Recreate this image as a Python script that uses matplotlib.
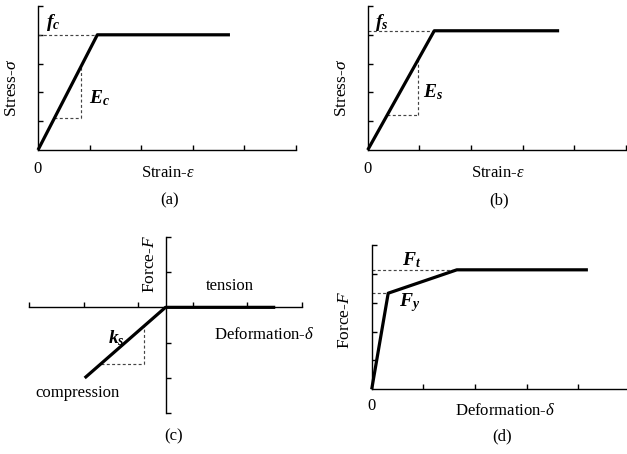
import numpy as np
import matplotlib
matplotlib.use("Agg")
from matplotlib import pyplot as plt

plt.rcParams['font.family'] = ['Liberation Serif', 'DejaVu Serif']
plt.rcParams['mathtext.fontset'] = 'custom'
plt.rcParams['mathtext.rm'] = 'Liberation Serif'
plt.rcParams['mathtext.it'] = 'Liberation Serif:italic'
plt.rcParams['mathtext.bf'] = 'Liberation Serif:italic:bold'

# constitutive curves (arbitrary units)
conc_strain = [0, 1.15, 3.72]
conc_stress = [0, 4.0, 4.0]
conc_corner = (0.84, 1.11)      # corner of the slope triangle

steel_strain = [0, 1.29, 3.71]
steel_stress = [0, 4.14, 4.14]
steel_corner = (0.97, 1.23)

spring_def = [-1.48, 0, 2.01]
spring_force = [-2.0, 0, 0]
spring_corner = (-0.40, -1.60)

link_def = [0, 0.32, 1.65, 4.19]
link_force = [0, 3.33, 4.14, 4.14]

LW = 2.3
DASH = dict(color='#444444', lw=0.85, ls=(0, (2.5, 2)))
FS = 12
FS_Y = 12.5
FS_SYM = 14

fig = plt.figure(figsize=(6.27, 4.54), dpi=100)


def px(v):
    return v * 0.72   # pixels -> points


def base_axes(rect, xlim, ylim):
    ax = fig.add_axes(rect)
    ax.patch.set_alpha(0)
    ax.set_xlim(*xlim)
    ax.set_ylim(*ylim)
    for s in ['top', 'right']:
        ax.spines[s].set_visible(False)
    for s in ['left', 'bottom']:
        ax.spines[s].set_linewidth(1.0)
    ax.tick_params(direction='in', length=3.8, width=1.0,
                   labelbottom=False, labelleft=False)
    return ax


def slope_triangle(ax, xs, ys, corner):
    cx, cy = corner
    x_low = np.interp(cy, ys[:2] if ys[0] < ys[1] else ys[1::-1],
                      xs[:2] if ys[0] < ys[1] else xs[1::-1])
    y_high = np.interp(cx, xs[:2] if xs[0] < xs[1] else xs[1::-1],
                       ys[:2] if xs[0] < xs[1] else ys[1::-1])
    ax.plot([x_low, cx], [cy, cy], **DASH)
    ax.plot([cx, cx], [cy, y_high], **DASH)


def stress_panel(rect, xs, ys, corner, top_lbl, slope_lbl, top_xy, slope_xy, tag):
    ax = base_axes(rect, (0, 5), (0, 5))
    ax.set_xticks([1, 2, 3, 4, 5])
    ax.set_yticks([1, 2, 3, 4, 5])
    ax.plot([0, xs[1]], [ys[1], ys[1]], **DASH)
    slope_triangle(ax, xs, ys, corner)
    ax.plot(xs, ys, color='black', lw=LW, solid_capstyle='butt', clip_on=False)
    ax.text(*top_xy, top_lbl, fontsize=FS_SYM, ha='center', va='center')
    ax.text(*slope_xy, slope_lbl, fontsize=FS_SYM, ha='center', va='center')
    ax.annotate('0', xy=(0, 0), xycoords='axes fraction', xytext=(0, -px(19)),
                textcoords='offset points', ha='center', va='center', fontsize=FS)
    ax.annotate(r'Strain-$\varepsilon$', xy=(0.505, 0), xycoords='axes fraction',
                xytext=(0, -px(23)), textcoords='offset points',
                ha='center', va='center', fontsize=FS)
    ax.annotate(tag, xy=(0.51, 0), xycoords='axes fraction', xytext=(0, -px(50)),
                textcoords='offset points', ha='center', va='center', fontsize=FS)
    ax.annotate(r'Stress-$\sigma$', xy=(0, 0.43), xycoords='axes fraction',
                xytext=(-px(26), 0), textcoords='offset points', rotation=90,
                ha='center', va='center', fontsize=FS_Y)
    return ax


# (a) concrete
stress_panel([38 / 627, 1 - 150 / 454, 258 / 627, 144 / 454],
             conc_strain, conc_stress, conc_corner,
             r'$\mathbf{f_c}$', r'$\mathbf{E_c}$', (0.29, 4.41), (1.20, 1.80), '(a)')

# (b) steel
stress_panel([367.7 / 627, 1 - 150 / 454, 258 / 627, 144 / 454],
             steel_strain, steel_stress, steel_corner,
             r'$\mathbf{f_s}$', r'$\mathbf{E_s}$', (0.28, 4.41), (1.26, 2.01), '(b)')

# (c) spring: tension / compression
ax = base_axes([29 / 627, 1 - 413.3 / 454, 273 / 627, 176.6 / 454], (-2.5, 2.5), (-3, 2))
ax.spines['left'].set_position(('data', 0))
ax.spines['bottom'].set_position(('data', 0))
ax.set_xticks([-2.5, -1.5, -0.5, 0.5, 1.5, 2.5])
ax.set_yticks([-3, -2, -1, 1, 2])
slope_triangle(ax, spring_def[1::-1], spring_force[1::-1], spring_corner)
ax.plot(spring_def, spring_force, color='black', lw=LW, solid_capstyle='butt')
ax.text(1.17, 0.60, 'tension', fontsize=FS, ha='center', va='center')
ax.text(0.88, -0.77, r'Deformation-$\delta$', fontsize=FS, ha='left', va='center')
ax.text(-0.90, -0.86, r'$\mathbf{k_s}$', fontsize=FS_SYM, ha='center', va='center')
ax.text(-1.61, -2.42, 'compression', fontsize=FS, ha='center', va='center')
ax.text(-0.29, 1.22, r'Force-$F$', fontsize=FS_Y, rotation=90, ha='center', va='center')
ax.annotate('(c)', xy=(0.528, 0), xycoords='axes fraction', xytext=(0, -px(23.4)),
            textcoords='offset points', ha='center', va='center', fontsize=FS)

# (d) link element
ax = base_axes([371.7 / 627, 1 - 389.3 / 454, 258 / 627, 144.3 / 454], (0, 5), (0, 5))
ax.set_xticks([1, 2, 3, 4, 5])
ax.set_yticks([1, 2, 3, 4, 5])
ax.plot([0, link_def[2]], [link_force[2], link_force[2]], **DASH)
ax.plot([0, link_def[1]], [link_force[1], link_force[1]], **DASH)
ax.plot(link_def, link_force, color='black', lw=LW, solid_capstyle='butt', clip_on=False)
ax.text(0.77, 4.46, r'$\mathbf{F_t}$', fontsize=FS_SYM, ha='center', va='center')
ax.text(0.74, 3.02, r'$\mathbf{F_y}$', fontsize=FS_SYM, ha='center', va='center')
ax.annotate('0', xy=(0, 0), xycoords='axes fraction', xytext=(0, -px(17)),
            textcoords='offset points', ha='center', va='center', fontsize=FS)
ax.annotate(r'Deformation-$\delta$', xy=(0.517, 0), xycoords='axes fraction',
            xytext=(0, -px(22)), textcoords='offset points',
            ha='center', va='center', fontsize=FS)
ax.annotate('(d)', xy=(0.505, 0), xycoords='axes fraction', xytext=(0, -px(47)),
            textcoords='offset points', ha='center', va='center', fontsize=FS)
ax.annotate(r'Force-$F$', xy=(0, 0.48), xycoords='axes fraction',
            xytext=(-px(26.7), 0), textcoords='offset points', rotation=90,
            ha='center', va='center', fontsize=FS_Y)

fig.savefig('out.png', dpi=100)
